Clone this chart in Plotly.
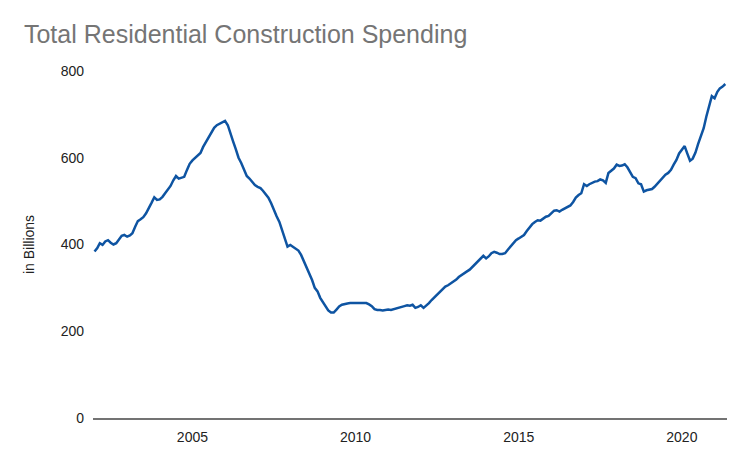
import plotly.graph_objects as go
import pandas as pd

start_month = "2002-01-01"

# Monthly values (billions), Jan 2002 - May 2021
spending = [
    # 2002
    384, 392, 403, 399, 407, 410, 404, 400, 403, 411, 420, 422,
    # 2003
    418, 421, 426, 441, 454, 458, 463, 472, 483, 496, 509, 503,
    # 2004
    504, 510, 518, 527, 535, 548, 558, 552, 555, 556, 572, 586,
    # 2005
    594, 600, 605, 611, 625, 637, 645, 660, 669, 675, 679, 683,
    # 2006
    685, 675, 655, 638, 620, 600, 588, 574, 558, 552, 543, 537,
    # 2007
    533, 530, 524, 516, 508, 495, 478, 465, 452, 433, 412, 395,
    # 2008
    399, 394, 390, 386, 376, 362, 347, 333, 318, 300, 292, 277,
    # 2009
    266, 257, 248, 243, 243, 250, 257, 261, 263, 264, 265, 265,
    # 2010
    264, 264, 264, 264, 265, 262, 258, 251, 249, 249, 248, 249,
    # 2011
    250, 249, 251, 253, 254, 256, 258, 260, 259, 261, 254, 256,
    # 2012
    260, 254, 259, 265, 272, 278, 284, 290, 297, 303, 306, 310,
    # 2013
    314, 319, 325, 330, 334, 338, 342, 348, 355, 362, 367, 374,
    # 2014
    368, 373, 380, 383, 381, 378, 378, 380, 388, 395, 401, 410,
    # 2015
    414, 418, 422, 431, 440, 447, 452, 456, 455, 460, 464, 466,
    # 2016
    472, 478, 479, 476, 480, 484, 487, 490, 498, 508, 514, 518,
    # 2017
    539, 535, 539, 542, 545, 546, 550, 548, 542, 565, 570, 575,
    # 2018
    584, 581, 582, 585, 578, 567, 556, 553, 541, 539, 522, 525,
    # 2019
    526, 528, 533, 540, 548, 556, 561, 565, 572, 584, 595, 610,
    # 2020
    620, 627, 610, 593, 598, 612, 632, 650, 668, 695, 718, 742,
    # 2021
    737, 752, 760, 764, 770,
]

months = pd.date_range(start_month, periods=len(spending), freq="MS")

y_ticks = [0, 200, 400, 600, 800]
x_ticks = ["2005-01-01", "2010-01-01", "2015-01-01", "2020-01-01"]
x_tick_labels = ["2005", "2010", "2015", "2020"]

fig = go.Figure()
fig.add_trace(go.Scatter(
    x=months, y=spending, mode="lines",
    line=dict(color="#0e54a2", width=2.5),
    hoverinfo="x+y",
))

fig.update_layout(
    width=750, height=463,
    margin=dict(l=85, r=31, t=63, b=53),
    paper_bgcolor="white", plot_bgcolor="white",
    showlegend=False,
    font=dict(family="Liberation Sans, Arial, sans-serif", color="#222222"),
    title=dict(
        text="Total Residential Construction Spending",
        font=dict(size=25, color="#757575", family="Liberation Sans, Arial, sans-serif"),
        x=0.0213, xanchor="left", y=0.944, yanchor="middle",
    ),
    xaxis=dict(
        range=["2001-12-15", "2021-05-20"],
        tickvals=x_ticks, ticktext=x_tick_labels,
        showgrid=False, zeroline=False,
        showline=True, linecolor="#737373", linewidth=1.5,
        ticks="", tickfont=dict(size=14, color="#222222"),
        ticklabelstandoff=5,
    ),
    yaxis=dict(
        range=[0, 800], tickvals=y_ticks,
        showgrid=False, zeroline=False, showline=False,
        ticks="", tickfont=dict(size=14, color="#222222"),
        ticklabelstandoff=8,
        title=dict(text="in Billions", font=dict(size=14, color="#222222"), standoff=22),
    ),
)

fig.write_html("out.html")
